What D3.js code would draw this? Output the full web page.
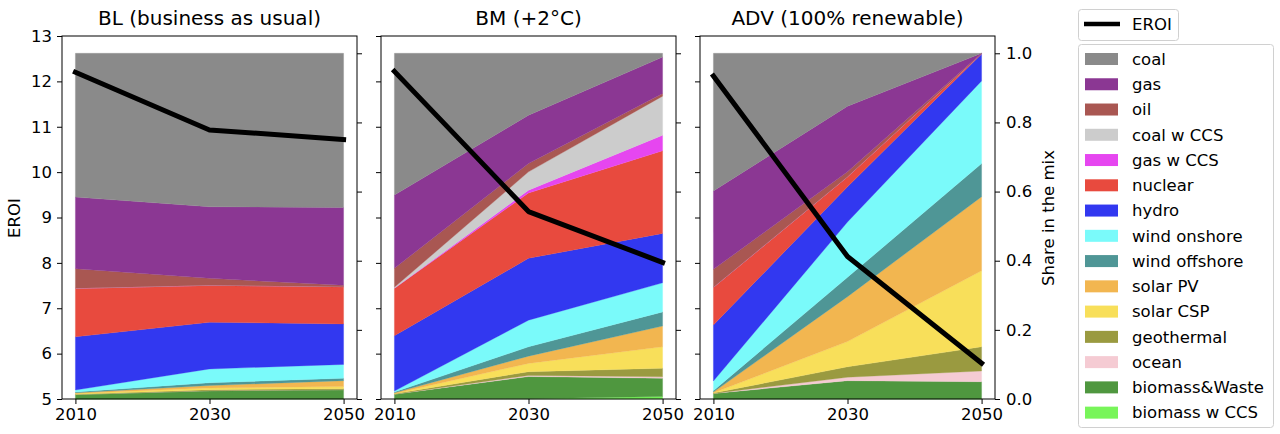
<!DOCTYPE html>
<html><head><meta charset="utf-8">
<script src="https://cdn.jsdelivr.net/npm/d3@7"></script>
<style>body{margin:0;background:#fff;}svg{display:block;font-family:"DejaVu Sans",sans-serif;}</style>
</head><body><svg id="c" width="1280" height="434"></svg>
<script>
const years = [2010, 2030, 2050];
// stack order, bottom to top
const techs = ["biomass w CCS","biomass&Waste","ocean","geothermal","solar CSP","solar PV","wind offshore","wind onshore","hydro","nuclear","gas w CCS","coal w CCS","oil","gas","coal"];
const colors = ["#78f55a","#4f973f","#f5cbd3","#9a9a40","#f8df5a","#f2b650","#4f9696","#7afafa","#3238f0","#e84a3e","#e646f0","#cccccc","#a95752","#8b3793","#8a8a8a"];
const titles = ["BL (business as usual)", "BM (+2°C)", "ADV (100% renewable)"];
// shares per tech (rows follow techs order), columns = years
const sharesBL = [
  [0,0,0],[.013,.024,.027],[0,0,0],[.001,.003,.003],[.002,.005,.006],[.002,.007,.017],
  [.002,.008,.007],[.006,.040,.040],[.154,.135,.117],[.140,.107,.108],[0,0,0],[0,0,0],
  [.057,.020,.004],[.207,.207,.225],[.416,.444,.446]];
const sharesBM = [
  [0,.001,.007],[.014,.064,.053],[0,.003,.004],[.001,.011,.025],[.001,.024,.062],[.002,.021,.060],
  [.002,.027,.041],[.003,.077,.084],[.160,.179,.143],[.137,.189,.239],[0,.008,.045],[.003,.053,.113],
  [.055,.024,.008],[.212,.140,.105],[.410,.179,.011]];
const sharesADV = [
  [0,0,0],[.016,.053,.050],[0,.010,.031],[.001,.030,.070],[.001,.073,.220],[.002,.130,.214],
  [.004,.056,.096],[.028,.160,.239],[.162,.102,.078],[.109,.029,.001],[0,0,0],[0,0,0],
  [.052,.014,.001],[.227,.190,0],[.398,.153,0]];
const eroiBL = [12.2, 10.93, 10.72];
const eroiBM = [12.22, 9.13, 8.01];
const eroiADV = [12.12, 8.14, 5.79];
const eroiTicks = [5,6,7,8,9,10,11,12,13];
const shareTicks = [0,0.2,0.4,0.6,0.8,1.0];

const panels = [
  {title: titles[0], shares: sharesBL, eroi: eroiBL},
  {title: titles[1], shares: sharesBM, eroi: eroiBM},
  {title: titles[2], shares: sharesADV, eroi: eroiADV}];

const svg = d3.select("#c");
const lefts = [62, 381, 700], W = 295, topY = 36, botY = 399;
const yL = d3.scaleLinear().domain([5,13]).range([botY, topY]);
const yR = d3.scaleLinear().domain([0,1.05]).range([botY, topY]);
const FS = 16.5;

panels.forEach((p, pi) => {
  const L = lefts[pi];
  const x = d3.scaleLinear().domain([2008, 2052]).range([L, L + W]);
  const g = svg.append("g");
  const rows = years.map((yr, j) => {
    const o = {year: yr};
    techs.forEach((t, i) => o[t] = p.shares[i][j]);
    return o;
  });
  const stacked = d3.stack().keys(techs)(rows);
  const area = d3.area().x(d => x(d.data.year)).y0(d => yR(d[0])).y1(d => yR(d[1]));
  g.selectAll("path.a").data(stacked).join("path")
    .attr("d", area).attr("fill", (d, i) => colors[i]).attr("stroke", (d,i)=>colors[i]).attr("stroke-width", 0.3);
  const line = d3.line().x((d, j) => x(years[j])).y(d => yL(d));
  g.append("path").attr("d", line(p.eroi)).attr("fill", "none")
    .attr("stroke", "#000").attr("stroke-width", 5).attr("stroke-linecap", "square").attr("stroke-linejoin","round");

  const ax = d3.axisBottom(x).tickValues(years).tickFormat(d3.format("d")).tickSize(5).tickPadding(4);
  const axL = d3.axisLeft(yL).tickValues(eroiTicks).tickSize(5).tickPadding(5);
  if (pi > 0) axL.tickFormat("");
  const axR = d3.axisRight(yR).tickValues(shareTicks).tickFormat(d3.format(".1f")).tickSize(5).tickPadding(6);
  if (pi < 2) axR.tickFormat("");
  const gb = g.append("g").attr("transform", `translate(0,${botY})`).call(ax);
  const gl = g.append("g").attr("transform", `translate(${L},0)`).call(axL);
  const gr = g.append("g").attr("transform", `translate(${L + W},0)`).call(axR);
  [gb, gl, gr].forEach(a => {
    a.select(".domain").remove();
    a.selectAll("line").attr("stroke", "#000").attr("stroke-width", 1);
    a.selectAll("text").attr("font-size", FS).attr("fill", "#000").attr("font-family", "DejaVu Sans");
  });
  g.append("rect").attr("x", L).attr("y", topY).attr("width", W).attr("height", botY - topY)
    .attr("fill", "none").attr("stroke", "#000").attr("stroke-width", 1);
  g.append("text").attr("x", L + W / 2).attr("y", 25).attr("text-anchor", "middle")
    .attr("font-size", 20).text(p.title);
});

svg.append("text").attr("transform", `translate(20,218) rotate(-90)`).attr("text-anchor", "middle")
  .attr("font-size", FS).text("EROI");
svg.append("text").attr("transform", `translate(1054,218) rotate(-90)`).attr("text-anchor", "middle")
  .attr("font-size", FS).text("Share in the mix");

const lg = svg.append("g");
lg.append("rect").attr("x", 1078.5).attr("y", 9.5).attr("width", 100).attr("height", 31).attr("rx", 3)
  .attr("fill", "#fff").attr("stroke", "#d0d0d0");
lg.append("line").attr("x1", 1084).attr("x2", 1120).attr("y1", 24).attr("y2", 24).attr("stroke", "#000").attr("stroke-width", 4.5);
lg.append("text").attr("x", 1132).attr("y", 24).attr("dy", "0.35em").attr("font-size", FS).text("EROI");
lg.append("rect").attr("x", 1078.5).attr("y", 44.5).attr("width", 195).attr("height", 383).attr("rx", 3)
  .attr("fill", "#fff").attr("stroke", "#d0d0d0");
const legItems = techs.map((t, i) => ({t, c: colors[i]})).reverse();
legItems.forEach((it, k) => {
  const cy = 59 + k * 25.26;
  lg.append("rect").attr("x", 1085).attr("y", cy - 6).attr("width", 33).attr("height", 12).attr("fill", it.c);
  lg.append("text").attr("x", 1132).attr("y", cy).attr("dy", "0.35em").attr("font-size", FS).text(it.t);
});
</script></body></html>
